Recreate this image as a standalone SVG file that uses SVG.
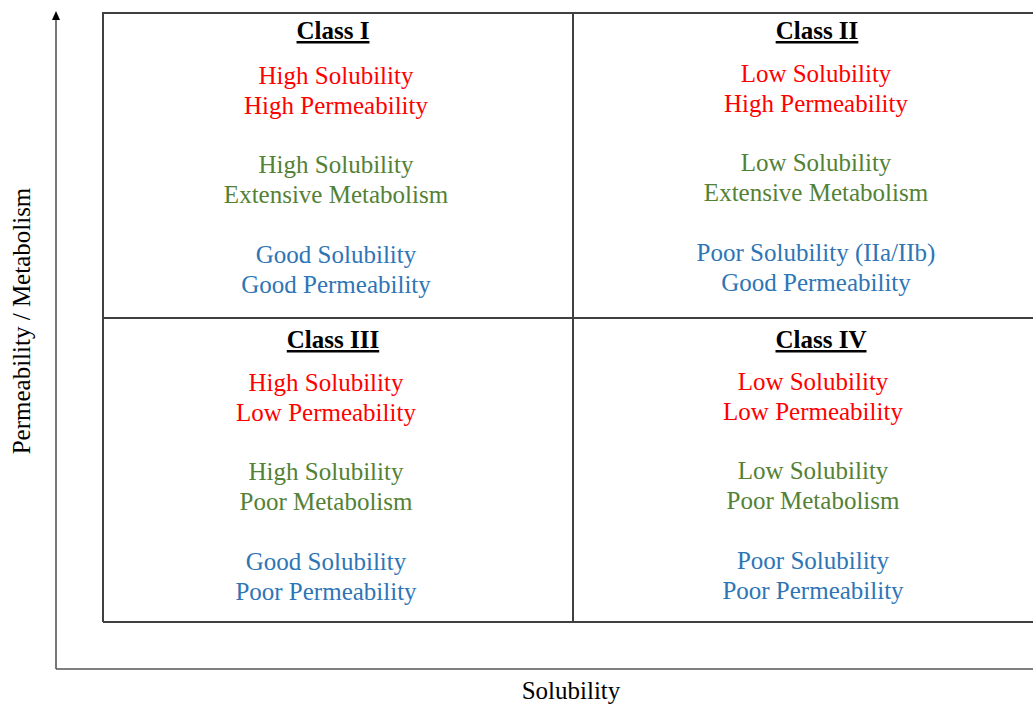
<svg xmlns="http://www.w3.org/2000/svg" width="1033" height="706" viewBox="0 0 1033 706">
  <style>
    text { font-family: "Liberation Serif", "Times New Roman", serif; font-size: 25px; text-anchor: middle; }
    .hd { font-weight: bold; text-decoration: underline; fill: #000; }
    .r { fill: #FF0000; }
    .g { fill: #538135; }
    .b { fill: #2E75B6; }
    .ax { fill: #000; }
    .grid { fill: none; stroke: #404040; stroke-width: 2; }
    .axis { fill: none; stroke: #555; stroke-width: 1.6; }
  </style>

  <!-- axes -->
  <g id="connectors">
    <path class="axis" d="M56,669 L56,18"/>
    <path d="M52,20 L56,11 L60,20 Z" fill="#000"/>
    <path class="axis" d="M56,669 L1033,669"/>
  </g>

  <!-- quadrant grid -->
  <g id="grid">
    <path class="grid" d="M103,622 L103,13 L1034,13 M103,622 L1034,622 M103,318 L1034,318 M573,13 L573,622"/>
  </g>

  <g id="class-1">
    <text class="hd" x="333" y="39">Class I</text>
    <text class="r" x="336" y="84">High Solubility</text>
    <text class="r" x="336" y="114">High Permeability</text>
    <text class="g" x="336" y="173">High Solubility</text>
    <text class="g" x="336" y="203">Extensive Metabolism</text>
    <text class="b" x="336" y="263">Good Solubility</text>
    <text class="b" x="336" y="293">Good Permeability</text>
  </g>

  <g id="class-2">
    <text class="hd" x="817" y="39">Class II</text>
    <text class="r" x="816" y="82">Low Solubility</text>
    <text class="r" x="816" y="112">High Permeability</text>
    <text class="g" x="816" y="171">Low Solubility</text>
    <text class="g" x="816" y="201">Extensive Metabolism</text>
    <text class="b" x="816" y="261">Poor Solubility (IIa/IIb)</text>
    <text class="b" x="816" y="291">Good Permeability</text>
  </g>

  <g id="class-3">
    <text class="hd" x="333" y="348">Class III</text>
    <text class="r" x="326" y="391">High Solubility</text>
    <text class="r" x="326" y="421">Low Permeability</text>
    <text class="g" x="326" y="480">High Solubility</text>
    <text class="g" x="326" y="510">Poor Metabolism</text>
    <text class="b" x="326" y="570">Good Solubility</text>
    <text class="b" x="326" y="600">Poor Permeability</text>
  </g>

  <g id="class-4">
    <text class="hd" x="821" y="348">Class IV</text>
    <text class="r" x="813" y="390">Low Solubility</text>
    <text class="r" x="813" y="420">Low Permeability</text>
    <text class="g" x="813" y="479">Low Solubility</text>
    <text class="g" x="813" y="509">Poor Metabolism</text>
    <text class="b" x="813" y="569">Poor Solubility</text>
    <text class="b" x="813" y="599">Poor Permeability</text>
  </g>

  <g id="axis-labels">
    <text class="ax" x="571" y="699">Solubility</text>
    <text class="ax" transform="translate(30,321) rotate(-90)">Permeability / Metabolism</text>
  </g>
</svg>
